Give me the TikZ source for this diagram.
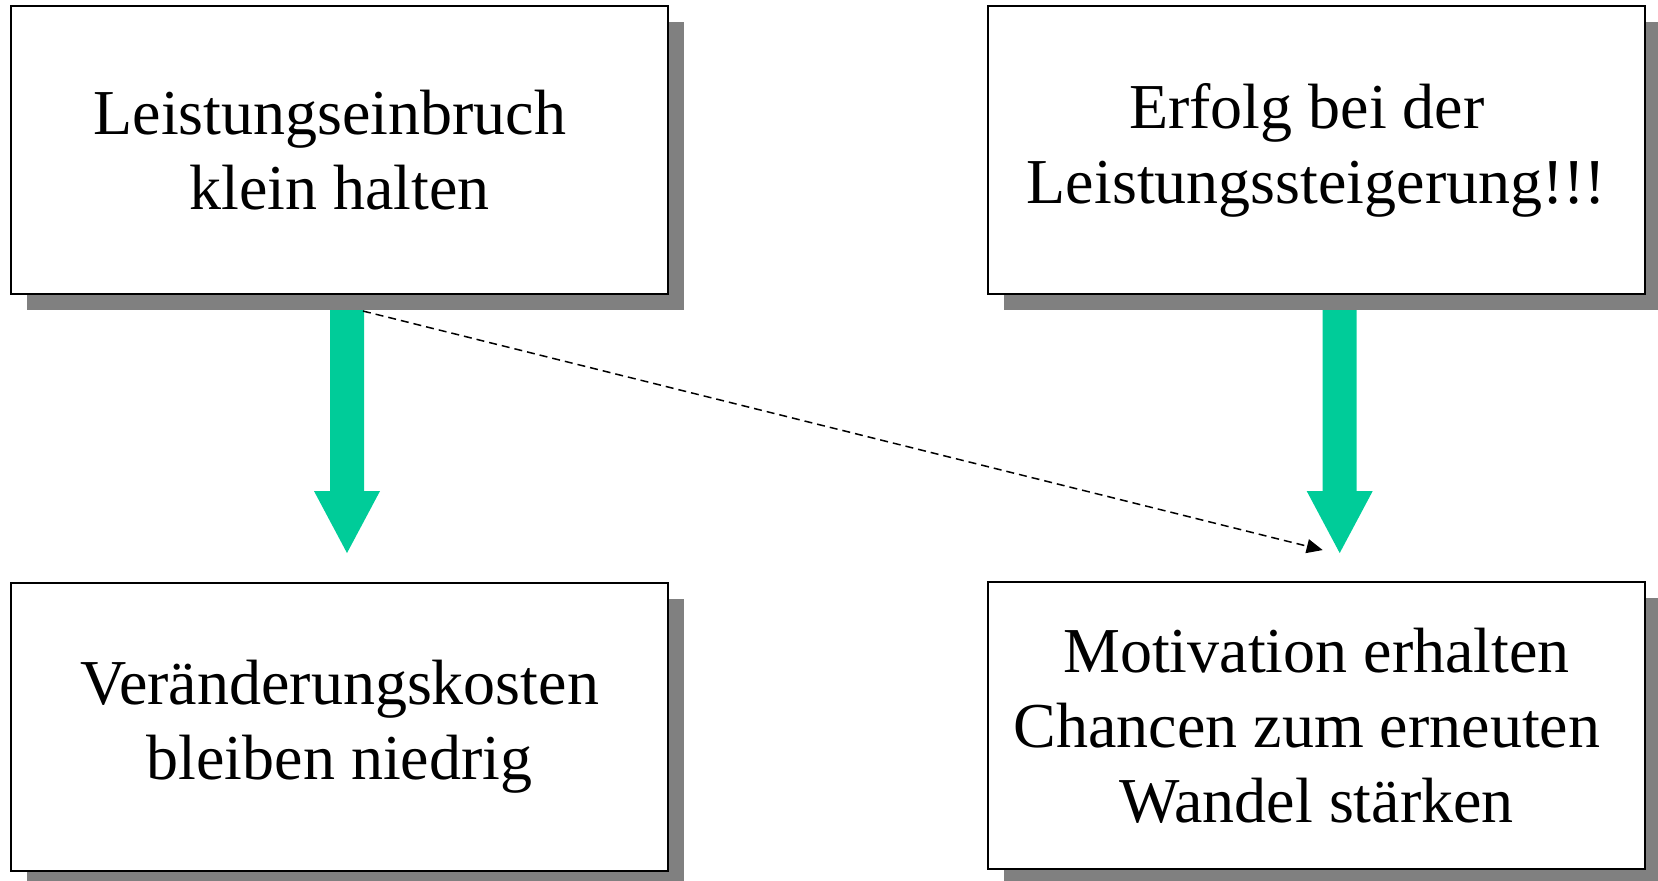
\documentclass[tikz,border=0pt]{standalone}
\usepackage{fontspec}
\setmainfont{Liberation Serif}
\usetikzlibrary{arrows.meta,shadows}
\definecolor{arrowgreen}{RGB}{0,204,153}
\definecolor{shadowgray}{RGB}{128,128,128}
\pgfdeclarelayer{background}
\pgfsetlayers{background,main}
% invisible trailing space that keeps its width at a line end
\newcommand{\tailspace}{\rule{0.3em}{0pt}}
\begin{document}
\begin{tikzpicture}[x=0.5pt,y=-0.5pt,
  infobox/.style={draw=black, line width=1pt, fill=white,
    minimum width=328.85pt, minimum height=143.85pt, inner sep=0pt,
    text width=320pt, align=flush center, font=\fontsize{32}{37.5}\selectfont,
    general shadow={fill=shadowgray, shadow xshift=8pt, shadow yshift=-8pt}},
  bigarrow/.style={fill=arrowgreen},
  linkarrow/.style={draw=black, line width=0.75pt, dash pattern=on 4pt off 2.5pt,
    -{Triangle[length=8pt,width=7pt]}}]
\useasboundingbox (0,0) rectangle (1658,881);

% the four statement boxes
\node[infobox] (b1) at (339.5,150.2) {Leistungseinbruch\tailspace\\klein halten};
\node[infobox] (b2) at (1316.5,150.2) {Erfolg bei der\tailspace\\Leistungssteigerung!!!};
\node[infobox] (b3) at (339.5,727) {Veränderungskosten\\bleiben niedrig};
\node[infobox] (b4) at (1316.5,725.4) {Motivation erhalten\\Chancen zum erneuten\tailspace\\Wandel stärken};

\begin{pgfonlayer}{background}
  % broad green arrows, starting beneath the box shadows
  \path (b1.south) ++(7.5,0) coordinate (g1);
  \path (b2.south) ++(23.2,0) coordinate (g2);
  \fill[bigarrow] (g1) ++(-17,0) -- ++(0,196) -- ++(-16,0) -- ++(33,62)
    -- ++(33,-62) -- ++(-16,0) -- ++(0,-196) -- cycle;
  \fill[bigarrow] (g2) ++(-17,0) -- ++(0,196) -- ++(-16,0) -- ++(33,62)
    -- ++(33,-62) -- ++(-16,0) -- ++(0,-196) -- cycle;
  \path (g2) ++(0,258) coordinate (t2);
  % dashed cross link
  \path (g1) ++(16,16) coordinate (d1);
  \path (t2) ++(-17,-3) coordinate (d2);
  \draw[linkarrow] (d1) -- (d2);
\end{pgfonlayer}
\end{tikzpicture}
\end{document}
